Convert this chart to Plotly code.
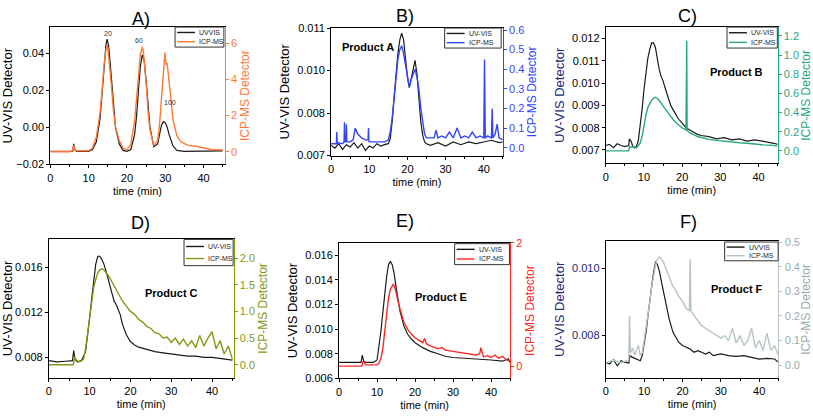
import plotly.graph_objects as go

# ---------------- DATA ----------------
# Panel A
a_uv_t = [0,5,5.8,6.1,6.4,7,10,11,12,13,13.5,14,14.5,14.8,15.2,15.6,16,16.5,17,18,19,20,21,22,22.5,23,23.5,24,24.5,25,25.5,26,27,28,28.5,29,29.5,30,30.5,31,32,33,35,40,45]
a_uv_v = [-0.013,-0.013,-0.013,-0.009,-0.0125,-0.013,-0.013,-0.012,-0.008,0.005,0.018,0.033,0.044,0.0475,0.044,0.035,0.024,0.010,0.000,-0.009,-0.0125,-0.013,-0.012,-0.004,0.006,0.020,0.033,0.039,0.036,0.025,0.011,0.000,-0.0105,-0.009,-0.004,0.001,0.003,0.0025,0.000,-0.004,-0.010,-0.0125,-0.013,-0.013,-0.0128]
a_icp_t = [0,5,5.8,6.1,6.4,7,10,11,12,13,13.5,14,14.5,14.8,15,15.3,15.6,16,16.5,17,18,19,20,21,22,22.5,23,23.5,23.8,24,24.3,24.6,25,25.5,26,27,28,28.5,29,29.3,29.6,29.9,30.2,30.5,31,31.5,32,33,34,35,36,38,40,42,45]
a_icp_v = [0,0,0.05,0.35,0.1,0.05,0.05,0.2,0.8,2.2,3.4,4.8,5.6,5.9,5.8,5.2,4.5,3.5,2.2,1.4,0.6,0.2,0.1,0.4,1.7,3.0,4.4,5.4,5.6,5.8,5.5,4.8,3.8,2.2,1.2,0.35,0.6,1.5,3.2,4.2,4.6,5.5,4.8,4.9,3.8,2.8,1.8,0.9,0.55,0.45,0.35,0.3,0.2,0.12,0.1]
a_peak_t = [15, 23.2, 31.3]
a_peak_y = [0.0505, 0.047, 0.0134]
a_peak_labels = ["20", "60", "100"]

# Panel B
b_uv_t = [0,1,2,3,4,5,6,7,8,9,10,11,12,13,14,15,15.5,16,16.5,17,17.5,18,18.5,19,19.5,20,20.5,21,21.5,22,22.5,23,23.5,24,24.5,25,26,28,30,32,34,36,38,40,42,44,45]
b_uv_v = [0.00730,0.00722,0.00735,0.00718,0.00732,0.00725,0.00738,0.00722,0.00735,0.00715,0.00728,0.00722,0.00735,0.00728,0.00732,0.00735,0.0075,0.0080,0.0087,0.0094,0.0100,0.0104,0.0106,0.0104,0.0098,0.0093,0.0090,0.0093,0.0096,0.0098,0.0094,0.0087,0.0080,0.0076,0.0074,0.00735,0.0073,0.00738,0.00728,0.0074,0.00732,0.0074,0.00735,0.0074,0.00745,0.00738,0.0074]
b_icp_t = [0,1,1.4,1.5,1.6,2,3,3.4,3.5,3.6,3.9,4.0,4.1,5,5.8,6.3,7,8,9,9.7,9.8,9.9,10,11,12,13,14,15,15.5,16,16.5,17,17.5,18,18.5,19,19.5,20,20.5,21,21.5,22,22.5,23,23.5,24,24.5,25,26,27,27.5,28,29,30,31,32,33,34,35,36,37,38,39,40,40.2,40.3,40.4,41,42,42.2,42.4,43,43.5,44,45]
b_icp_v = [0.02,0.02,0.02,0.08,0.02,0.025,0.02,0.03,0.13,0.03,0.03,0.12,0.03,0.03,0.04,0.1,0.07,0.05,0.04,0.04,0.1,0.04,0.03,0.03,0.03,0.03,0.03,0.04,0.08,0.15,0.25,0.35,0.45,0.5,0.52,0.48,0.42,0.35,0.31,0.35,0.38,0.40,0.36,0.3,0.2,0.12,0.07,0.05,0.05,0.05,0.09,0.05,0.06,0.05,0.08,0.05,0.1,0.05,0.06,0.05,0.08,0.05,0.06,0.05,0.45,0.05,0.05,0.06,0.05,0.2,0.05,0.07,0.12,0.05,0.04]
b_left_tickvals = [0.007, 0.00825, 0.0095, 0.01075]
b_left_ticktext = ["0.007", "0.008", "0.010", "0.011"]

# Panel C
c_uv_t = [0,1,2,3,4,5,6,6.2,6.6,7,7.5,8,8.5,9,9.5,10,10.5,11,11.5,12,12.5,13,13.5,14,14.5,15,15.5,16,17,18,19,20,21,22,23,24,25,27,29,31,33,35,37,39,41,43,44,45]
c_uv_v = [0.0072,0.00725,0.0071,0.00728,0.0072,0.00715,0.0072,0.0075,0.0074,0.0072,0.0071,0.00715,0.0074,0.0080,0.0088,0.0097,0.0105,0.0111,0.0115,0.0118,0.0118,0.0116,0.0111,0.0106,0.0103,0.0101,0.0098,0.0095,0.0090,0.0087,0.0084,0.0082,0.0080,0.0079,0.0078,0.0077,0.00765,0.0076,0.0075,0.00755,0.00745,0.0075,0.0074,0.00745,0.0074,0.00735,0.0073,0.00725]
c_icp_t = [0,6,6.2,7,8,9,9.5,10,10.5,11,11.5,12,12.5,13,13.5,14,14.5,15,16,17,18,19,20,21,21.2,21.3,21.4,22,23,24,25,27,29,31,33,35,37,39,41,43,45]
c_icp_v = [0,0,0.04,0.04,0.03,0.08,0.15,0.27,0.37,0.45,0.5,0.53,0.55,0.56,0.55,0.53,0.5,0.47,0.41,0.36,0.31,0.27,0.24,0.22,1.15,0.22,0.21,0.19,0.17,0.15,0.14,0.12,0.11,0.1,0.09,0.085,0.08,0.07,0.065,0.06,0.05]

# Panel D
d_uv_t = [0,2,4,5.8,6.1,6.4,7,8,9,9.5,10,10.5,11,11.5,12,12.5,13,13.5,14,14.5,15,15.5,16,16.5,17,17.5,18,19,20,21,22,24,26,28,30,32,34,36,38,40,42,44,45]
d_uv_v = [0.0077,0.0076,0.00765,0.0077,0.0086,0.0078,0.0076,0.0077,0.0085,0.0098,0.0115,0.0132,0.0150,0.0163,0.0170,0.0170,0.0167,0.0163,0.0157,0.0150,0.0143,0.0136,0.0130,0.0127,0.0123,0.0118,0.0110,0.0100,0.0094,0.0091,0.0089,0.0087,0.0085,0.0084,0.0083,0.0082,0.0081,0.0081,0.0080,0.0080,0.0079,0.0078,0.00775]
d_icp_t = [0,6,6.3,6.8,7.5,8.5,9,9.5,10,10.5,11,11.5,12,12.5,13,13.5,14,14.5,15,16,17,18,19,20,21,22,23,24,25,26,27,28,29,30,31,32,33,34,35,36,37,38,39,40,41,42,43,44,45]
d_icp_v = [0,0,0.15,0.08,0.05,0.1,0.3,0.6,0.95,1.25,1.45,1.6,1.72,1.78,1.8,1.78,1.74,1.68,1.62,1.48,1.33,1.2,1.1,1.0,0.95,0.85,0.8,0.72,0.68,0.6,0.58,0.5,0.52,0.42,0.5,0.38,0.48,0.35,0.45,0.32,0.55,0.35,0.5,0.62,0.3,0.45,0.2,0.35,0.1]

# Panel E
e_uv_t = [0,3,5.8,6.1,6.5,7,8,9,10,10.5,11,11.5,12,12.5,13,13.5,14,14.5,15,15.5,16,17,18,19,20,22,24,26,28,30,33,36,40,43,44.5,45]
e_uv_v = [0.0073,0.0073,0.0073,0.0079,0.0074,0.0073,0.0073,0.0073,0.0075,0.0085,0.0098,0.0113,0.0128,0.0142,0.0152,0.0155,0.0152,0.0145,0.0134,0.0124,0.0115,0.0103,0.0096,0.0092,0.0089,0.0085,0.0082,0.0080,0.0078,0.0077,0.00765,0.0076,0.0075,0.0074,0.0076,0.0073]
e_icp_t = [0,6,6.3,6.7,7,10,10.5,11,11.5,12,12.5,13,13.5,14,14.3,14.6,15,15.5,16,16.5,17,18,19,20,21,22,22.5,23,24,25,26,27,28,30,32,34,36,37,37.3,38,39,40,41,42,43,44,45]
e_icp_v = [0,0,0.08,0.03,0.02,0.02,0.05,0.12,0.28,0.55,0.85,1.1,1.25,1.3,1.33,1.28,1.2,1.05,0.93,0.82,0.72,0.6,0.52,0.46,0.42,0.38,0.45,0.36,0.33,0.31,0.28,0.3,0.26,0.24,0.22,0.2,0.18,0.2,0.3,0.15,0.17,0.14,0.18,0.13,0.16,0.1,0.08]

# Panel F
f_uv_t = [0,1,2,3,4,5,6,6.3,7,8,9,9.5,10,10.5,11,11.5,12,12.5,13,13.5,14,14.5,15,15.5,16,16.5,17,17.5,18,19,20,21,22,23,24,25,26,27,28,30,32,34,36,38,40,42,44,45]
f_uv_v = [0.0072,0.00715,0.00728,0.0071,0.00725,0.0072,0.00718,0.0074,0.00735,0.0073,0.00725,0.0074,0.0077,0.0081,0.0086,0.0091,0.0095,0.0099,0.0102,0.0101,0.0099,0.0096,0.0093,0.0090,0.0087,0.0085,0.0083,0.0081,0.0080,0.0078,0.0077,0.00765,0.0076,0.0075,0.00755,0.0075,0.00745,0.0075,0.0074,0.00745,0.0074,0.00738,0.0074,0.00735,0.0073,0.00732,0.0073,0.0072]
f_icp_t = [0,2,4,6,6.2,6.3,6.4,7,7.5,8,8.5,9,9.5,10,10.5,11,11.5,12,12.5,13,13.5,14,14.5,15,15.5,16,16.5,17,17.5,18,19,20,21,21.8,22,22.2,23,24,25,26,27,28,29,30,31,32,33,34,35,36,37,38,39,40,41,42,43,44,45]
f_icp_v = [0.01,0.02,0.01,0.02,0.2,0.05,0.05,0.07,0.04,0.06,0.08,0.04,0.05,0.1,0.15,0.2,0.26,0.32,0.37,0.41,0.43,0.44,0.43,0.42,0.4,0.38,0.36,0.34,0.32,0.31,0.28,0.26,0.23,0.22,0.43,0.22,0.2,0.18,0.16,0.15,0.14,0.13,0.12,0.11,0.12,0.1,0.15,0.09,0.12,0.08,0.1,0.15,0.07,0.1,0.06,0.13,0.06,0.08,0.04]

panel_letters = ["A)", "B)", "C)", "D)", "E)", "F)"]
products = [None, "Product A", "Product B", "Product C", "Product E", "Product F"]
uv_names = ["UVVIS", "UV-VIS", "UV-VIS", "UV-VIS", "UV-VIS", "UVVIS"]
icp_name = "ICP-MS"
x_title = "time (min)"
left_title = "UV-VIS Detector"
right_title = "ICP-MS Detector"

# ---------------- STYLE / LAYOUT ----------------
W, H = 813, 418
FONT = "Arial, 'Liberation Sans', sans-serif"
NAVY = "#23287a"

def fx(px):
    return px / W

def fy(py):
    return 1 - py / H

# plot-area boxes in pixels: left, right, top, bottom
boxes = [
    (47.5, 222.5, 21.7, 163),
    (329.3, 501.7, 22.7, 154),
    (605, 777.5, 22, 162),
    (46, 231.5, 240.3, 382.5),
    (337.3, 509, 243.7, 383.5),
    (605, 778.3, 242.3, 382.5),
]
x_ranges = [[0, 45.5], [0, 45], [0, 45], [0, 45.3], [0, 45], [0, 45]]
icp_colors = ["#ff7a33", "#3344ff", "#26a884", "#7f9c12", "#ff2626", "#b7c4c4"]
right_tick_colors = ["#ff7a33", "#3344ff", "#26a884", "#7f9c12", "#ff2626", "#9aabab"]
left_title_colors = ["black", "black", NAVY, "black", "black", NAVY]
left_tick_colors = ["black", "black", "black", "black", "black", NAVY]

left_axis_cfg = [
    dict(range=[-0.02, 0.054], dtick=0.02, tickformat=".2f"),
    dict(range=[0.007, 0.01075], tickvals=b_left_tickvals, ticktext=b_left_ticktext),
    dict(range=[0.0064, 0.0125], dtick=0.001, tickformat=".3f"),
    dict(range=[0.0062, 0.0185], dtick=0.004, tickformat=".3f"),
    dict(range=[0.006, 0.017], dtick=0.002, tickformat=".3f"),
    dict(range=[0.00675, 0.0108], dtick=0.002, tickformat=".3f"),
]
right_axis_cfg = [
    dict(range=[-0.7, 6.9], dtick=2, tickformat="d"),
    dict(range=[-0.04, 0.61], dtick=0.1, tickformat=".1f"),
    dict(range=[-0.13, 1.29], dtick=0.2, tickformat=".1f"),
    dict(range=[-0.24, 2.35], dtick=0.5, tickformat=".1f"),
    dict(range=[-0.2, 2.0], tickvals=[0, 2], tickformat="d"),
    dict(range=[-0.05, 0.503], dtick=0.1, tickformat=".1f"),
]
# custom legend boxes in pixels: left, right, top, bottom
legend_boxes = [
    (172.7, 221.7, 21.7, 42.3),
    (443.3, 500.0, 22.7, 43.3),
    (726.7, 777.2, 21.7, 43.3),
    (181.7, 231.0, 240.3, 267.3),
    (453.3, 508.3, 244.7, 266.3),
    (724.3, 778.0, 243.0, 262.3),
]
product_pos = [None, (366.7, 41.7), (736.7, 68.3), (169.3, 295.3), (440, 299.7), (736.7, 291.3)]
letter_pos = [(138.3, 13.3), (403.3, 10), (686.7, 10), (138.3, 223), (403.3, 221.3), (688.3, 222.3)]

uv_data = [(a_uv_t, a_uv_v), (b_uv_t, b_uv_v), (c_uv_t, c_uv_v), (d_uv_t, d_uv_v), (e_uv_t, e_uv_v), (f_uv_t, f_uv_v)]
icp_data = [(a_icp_t, a_icp_v), (b_icp_t, b_icp_v), (c_icp_t, c_icp_v), (d_icp_t, d_icp_v), (e_icp_t, e_icp_v), (f_icp_t, f_icp_v)]

fig = go.Figure()
layout = dict(
    width=W, height=H, margin=dict(l=0, r=0, t=0, b=0),
    paper_bgcolor="white", plot_bgcolor="white",
    font=dict(family=FONT, size=11, color="black"),
    showlegend=False,
)
annotations = []
shapes = []

for i in range(6):
    n = i + 1
    xs = "" if n == 1 else str(n)
    yl = 2 * i + 1
    yr = 2 * i + 2
    yls = "" if yl == 1 else str(yl)
    yrs = str(yr)
    L, R, T, B = boxes[i]

    fig.add_trace(go.Scatter(x=uv_data[i][0], y=uv_data[i][1], mode="lines",
                             line=dict(color="#1a1a1a", width=1.2), name=uv_names[i],
                             xaxis="x" + xs, yaxis="y" + yls))
    fig.add_trace(go.Scatter(x=icp_data[i][0], y=icp_data[i][1], mode="lines",
                             line=dict(color=icp_colors[i], width=1.4), name=icp_name,
                             xaxis="x" + xs, yaxis="y" + yrs))

    layout["xaxis" + xs] = dict(
        domain=[fx(L), fx(R)], anchor="y" + yls, range=x_ranges[i],
        showline=True, linecolor="black", linewidth=1, mirror=True,
        ticks="outside", ticklen=3, tickcolor="black", dtick=10,
        minor=dict(ticks="outside", ticklen=2, dtick=5, tickcolor="black"),
        showgrid=False, zeroline=False,
        tickfont=dict(size=11),
        title=dict(text=x_title, font=dict(size=11), standoff=4),
    )
    lc = left_axis_cfg[i]
    layout["yaxis" + yls] = dict(
        domain=[fy(B), fy(T)], anchor="x" + xs, side="left",
        showline=True, linecolor="black", linewidth=1,
        ticks="outside", ticklen=3, tickcolor="black",
        showgrid=False, zeroline=False,
        tickfont=dict(size=11, color=left_tick_colors[i]),
        title=dict(text=left_title, font=dict(size=13, color=left_title_colors[i]), standoff=4),
        **lc,
    )
    rc = right_axis_cfg[i]
    layout["yaxis" + yrs] = dict(
        overlaying="y" + yls, anchor="x" + xs, side="right",
        showline=True, linecolor=icp_colors[i], linewidth=1,
        ticks="outside", ticklen=3, tickcolor=icp_colors[i],
        showgrid=False, zeroline=False,
        tickfont=dict(size=11, color=right_tick_colors[i]),
        title=dict(text=right_title, font=dict(size=12, color=right_tick_colors[i]), standoff=4),
        **rc,
    )

    # custom compact legend (box + line samples + labels)
    lL, lR, lT, lB = legend_boxes[i]
    shapes.append(dict(type="rect", xref="paper", yref="paper",
                       x0=fx(lL), x1=fx(lR), y0=fy(lB), y1=fy(lT),
                       line=dict(color="#333333", width=1), fillcolor="white", layer="above"))
    rows = [lT + (lB - lT) * 0.27, lT + (lB - lT) * 0.73]
    entries = [(uv_names[i], "#1a1a1a"), (icp_name, icp_colors[i])]
    for (label, col), ry in zip(entries, rows):
        shapes.append(dict(type="line", xref="paper", yref="paper",
                           x0=fx(lL + 2), x1=fx(lL + 20), y0=fy(ry), y1=fy(ry),
                           line=dict(color=col, width=1.4), layer="above"))
        annotations.append(dict(text=label, x=fx(lL + 22), y=fy(ry), xref="paper", yref="paper",
                                showarrow=False, xanchor="left", yanchor="middle",
                                font=dict(size=7, color="#222222")))

    px_, py_ = letter_pos[i]
    annotations.append(dict(text=panel_letters[i], x=fx(px_), y=fy(py_), xref="paper", yref="paper",
                            showarrow=False, font=dict(size=18), xanchor="center", yanchor="middle"))
    if products[i]:
        px_, py_ = product_pos[i]
        annotations.append(dict(text="<b>%s</b>" % products[i], x=fx(px_), y=fy(py_), xref="paper", yref="paper",
                                showarrow=False, font=dict(size=11), xanchor="center", yanchor="middle"))

for t, y, lab in zip(a_peak_t, a_peak_y, a_peak_labels):
    annotations.append(dict(text=lab, x=t, y=y, xref="x", yref="y", showarrow=False,
                            font=dict(size=7, color="#333333"), xanchor="center", yanchor="middle"))

layout["annotations"] = annotations
layout["shapes"] = shapes
fig.update_layout(**layout)
fig.write_html("out.html")
